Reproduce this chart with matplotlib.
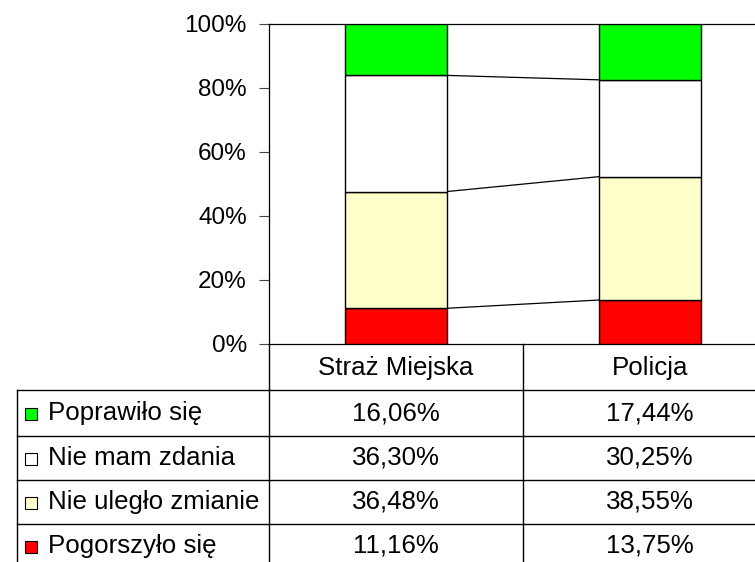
import matplotlib.pyplot as plt
import numpy as np

plt.rcParams['font.family'] = ['Liberation Sans', 'DejaVu Sans']

# data
categories = ['Straż Miejska', 'Policja']
series = ['Poprawiło się', 'Nie mam zdania', 'Nie uległo zmianie', 'Pogorszyło się']
values = {
    'Poprawiło się': [16.06, 17.44],
    'Nie mam zdania': [36.30, 30.25],
    'Nie uległo zmianie': [36.48, 38.55],
    'Pogorszyło się': [11.16, 13.75],
}
colors = {
    'Poprawiło się': '#00FF00',
    'Nie mam zdania': '#FFFFFF',
    'Nie uległo zmianie': '#FFFFCC',
    'Pogorszyło się': '#FF0000',
}
yticks = [0, 20, 40, 60, 80, 100]

W, H = 755, 562
fig = plt.figure(figsize=(W / 100, H / 100), dpi=100)

# axes box in pixels: left 269, right 777 (cut off), top 24, bottom 344
ax = fig.add_axes([269 / W, 1 - 344 / H, 508 / W, 320 / H])
ax.set_xlim(-0.5, 1.5)
ax.set_ylim(0, 100)

x = np.arange(len(categories))
bar_w = 0.4
bottom = np.zeros(len(categories))
tops = []
# stack from bottom: reversed order of the table rows
for name in series[::-1]:
    vals = np.array(values[name])
    ax.bar(x, vals, bar_w, bottom=bottom, color=colors[name],
           edgecolor='black', linewidth=1.0, zorder=3)
    bottom = bottom + vals
    tops.append(bottom.copy())

# series lines between bars
for t in tops:
    ax.plot([x[0] + bar_w / 2, x[1] - bar_w / 2], [t[0], t[1]],
            color='black', linewidth=0.9, zorder=2)

ax.set_yticks(yticks)
ax.set_yticklabels([f'{v}%' for v in yticks], fontsize=17.5)
ax.set_xticks([])
ax.tick_params(axis='y', length=7, width=0.8, pad=9, color='#444444')
for s in ['left', 'top', 'bottom']:
    ax.spines[s].set_linewidth(0.9)
    ax.spines[s].set_color('black')
ax.spines['right'].set_visible(False)


# data table below the axes, drawn in pixel coordinates
def fx(px):
    return px / W


def fy(py):
    return 1 - py / H


def line(x0, x1, y0, y1):
    fig.add_artist(plt.Line2D([fx(x0), fx(x1)], [fy(y0), fy(y1)],
                              transform=fig.transFigure, color='black', lw=1.0))


fs = 18.6
row_edges = [344, 390, 436, 480, 524, 568]
col_edges_data = [-0.5, 0.5, 1.5]
to_px = ax.transData.transform
col_px = [to_px((c, 0))[0] for c in col_edges_data]
cen_px = [to_px((c, 0))[0] for c in x]

for ry in row_edges[1:]:
    line(17, W + 30, ry, ry)
line(17, 17, 390, 568)
for cx in col_px:
    line(cx, cx, 344, 568)

# header
for i, cat in enumerate(categories):
    fig.text(fx(cen_px[i]), fy((row_edges[0] + row_edges[1]) / 2 + 1), cat,
             ha='center', va='center', fontsize=fs)

# rows
for r, name in enumerate(series):
    yc = (row_edges[r + 1] + row_edges[r + 2]) / 2
    fig.add_artist(plt.Rectangle((fx(25), fy(yc + 7)), 12 / W, 12 / H,
                                 transform=fig.transFigure,
                                 facecolor=colors[name], edgecolor='black',
                                 lw=0.8))
    fig.text(fx(48), fy(yc), name, ha='left', va='center', fontsize=fs)
    for i in range(len(categories)):
        txt = f'{values[name][i]:.2f}%'.replace('.', ',')
        fig.text(fx(cen_px[i]), fy(yc), txt, ha='center', va='center',
                 fontsize=fs)

fig.savefig('out.png', dpi=100)
